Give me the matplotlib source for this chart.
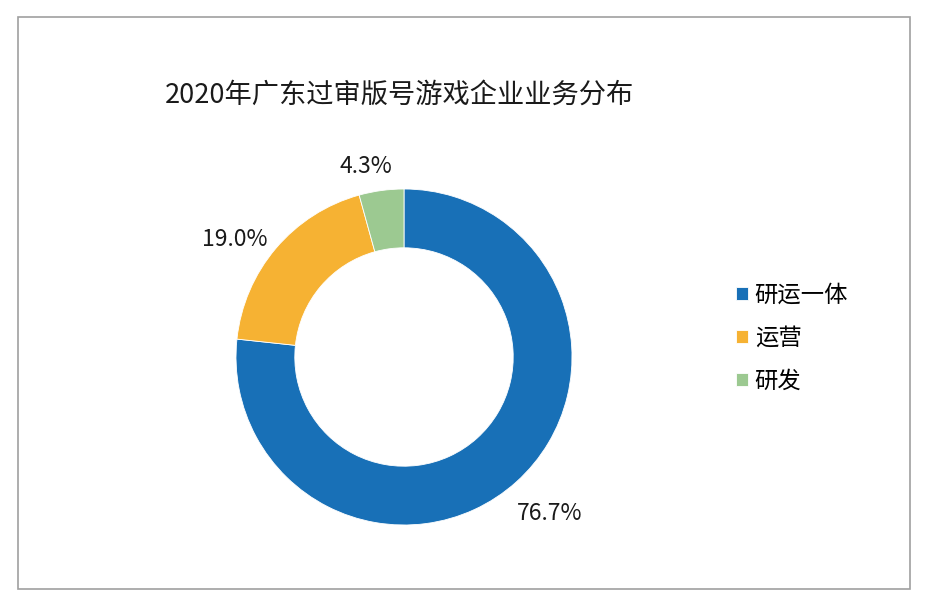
import numpy as np
import matplotlib
matplotlib.use('Agg')
import matplotlib.pyplot as plt
from matplotlib.patches import Rectangle

plt.rcParams['font.family'] = ['Noto Sans CJK SC', 'DejaVu Sans']

title = '2020年广东过审版号游戏企业业务分布'
categories = ['研运一体', '运营', '研发']
shares = [76.7, 19.0, 4.3]
colors = ['#1870b7', '#f6b233', '#9cc991']
# label placement: distance from centre (in radii) and shift from wedge middle (deg)
label_dist = [1.27, 1.225, 1.155]
label_shift = [1.0, 5.6, 3.5]

W, H = 932, 608
fig = plt.figure(figsize=(W / 100, H / 100), dpi=100)

# frame around the chart
fig.patches.append(Rectangle((18 / W, 1 - 589 / H), 892 / W, 572 / H,
                             transform=fig.transFigure, fill=False,
                             edgecolor='#a0a0a0', linewidth=1.2))

fig.text(399 / W, 1 - 95 / H, title, ha='center', va='center', fontsize=19.6, color='#1a1a1a')

# donut: outer radius ~168 px, centre at (404, 357)
cx, cy, box = 404, 357, 400
ax = fig.add_axes([(cx - box / 2) / W, 1 - (cy + box / 2) / H, box / W, box / H])
wedges, _ = ax.pie(shares, colors=colors, startangle=90, counterclock=False,
                   wedgeprops=dict(width=0.35, edgecolor='white', linewidth=0.6))
lim = box / 2 / 168
ax.set_xlim(-lim, lim)
ax.set_ylim(-lim, lim)
ax.set_aspect('equal')
ax.axis('off')

for w, v, d, s in zip(wedges, shares, label_dist, label_shift):
    ang = np.deg2rad((w.theta1 + w.theta2) / 2 + s)
    ax.text(d * np.cos(ang), d * np.sin(ang), '%.1f%%' % v,
            ha='center', va='center', fontsize=16.5, color='#1a1a1a')

fig.legend(wedges, categories, loc='center left',
           bbox_to_anchor=(736 / W, 1 - 338 / H), frameon=False,
           fontsize=16.8, handlelength=0.5, handleheight=0.5,
           handletextpad=0.3, labelspacing=0.86, borderpad=0, borderaxespad=0)

fig.savefig('out.png', dpi=100, facecolor='white')
